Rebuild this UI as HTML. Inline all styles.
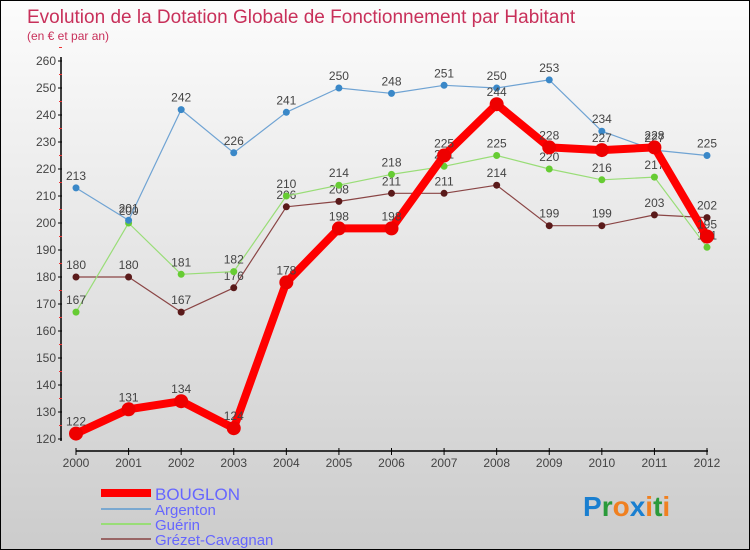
<!DOCTYPE html>
<html><head><meta charset="utf-8"><style>
body{margin:0}
#c{width:750px;height:550px;position:relative;box-sizing:border-box;border:1px solid #000;background:linear-gradient(#fcfcfc,#cccccc);font-family:"Liberation Sans",sans-serif;overflow:hidden}
svg text{font-family:"Liberation Sans",sans-serif}
</style></head><body>
<div id="c">
<svg id="s" width="750" height="550" style="position:absolute;left:0;top:0">
<text x="26" y="22" font-size="19" fill="#c8305a">Evolution de la Dotation Globale de Fonctionnement par Habitant</text>
<text x="26" y="39" font-size="12" fill="#c8305a">(en € et par an)</text>
<g id="ax"></g><g id="marks"></g>
<g>
<line x1="100" y1="492" x2="150" y2="492" stroke="#f00" stroke-width="8"/>
<text x="154" y="499" font-size="17" fill="#6666ff">BOUGLON</text>
<line x1="100" y1="508" x2="150" y2="508" stroke="#7aa8d0" stroke-width="2"/>
<text x="154" y="514" font-size="15" fill="#6666ff">Argenton</text>
<line x1="100" y1="523" x2="150" y2="523" stroke="#99dd77" stroke-width="2"/>
<text x="154" y="529" font-size="15" fill="#6666ff">Guérin</text>
<line x1="100" y1="538" x2="150" y2="538" stroke="#996666" stroke-width="2"/>
<text x="154" y="544" font-size="15" fill="#6666ff">Grézet-Cavagnan</text>
</g>
<text x="582" y="515" font-size="28" font-weight="bold"><tspan fill="#1a7fd0">P</tspan><tspan fill="#2a9a3a">r</tspan><tspan fill="#f08020">o</tspan><tspan fill="#1a7fd0">x</tspan><tspan fill="#f08020">i</tspan><tspan fill="#2a9a3a">t</tspan><tspan fill="#f08020">i</tspan></text>
</svg>
</div>
<script>
const years=[2000,2001,2002,2003,2004,2005,2006,2007,2008,2009,2010,2011,2012];
const bouglon=[122,131,134,124,178,198,198,225,244,228,227,228,195];
const argenton=[213,201,242,226,241,250,248,251,250,253,234,227,225];
const guerin=[167,200,181,182,210,214,218,221,225,220,216,217,191];
const grezet=[180,180,167,176,206,208,211,211,214,199,199,203,202];
const yTicks=[120,130,140,150,160,170,180,190,200,210,220,230,240,250,260];
const NS='http://www.w3.org/2000/svg';
const X=i=>75+i*(706-75)/(years.length-1);
const Y=v=>438-(v-120)*(438-60)/140;
function mk(t,a,p){const e=document.createElementNS(NS,t);for(const k in a)e.setAttribute(k,a[k]);p.appendChild(e);return e;}
const ax=document.getElementById('ax'),mg=document.getElementById('marks');
const ya=mk('line',{x1:60,y1:56,x2:60,y2:440,stroke:'#000','stroke-width':1.5},ax);


yTicks.forEach(v=>{
 mk('line',{x1:57,y1:Y(v),x2:61,y2:Y(v),stroke:'#000'},ax);
 mk('line',{x1:58,y1:Y(v+5),x2:61,y2:Y(v+5),stroke:'#e33'},ax);
 const t=mk('text',{x:55,y:Y(v)+4,'font-size':12,fill:'#444','text-anchor':'end'},ax);t.textContent=v;
 
 
});
const xa=mk('line',{x1:75,y1:450,x2:707,y2:450,stroke:'#000','stroke-width':1.5},ax);


years.forEach((y,i)=>{
 mk('line',{x1:X(i),y1:447,x2:X(i),y2:454,stroke:'#000'},ax);
 const t=mk('text',{x:X(i),y:466,'font-size':12,fill:'#444','text-anchor':'middle'},ax);t.textContent=y;
 
 
});
function series(d,name,col,dot,w,r){
 const g=mk('g',{},mg);
 
 
 mk('polyline',{points:d.map((v,i)=>X(i)+','+Y(v)).join(' '),fill:'none',stroke:col,'stroke-width':w,'stroke-linejoin':'round'},g);
 d.forEach((v,i)=>{
  const c=mk('circle',{cx:X(i),cy:Y(v),r:r,fill:dot},g);
  
  
  const t=mk('text',{x:X(i),y:Y(v)-8,'font-size':12,fill:'#444','text-anchor':'middle'},g);t.textContent=v;
 });
}
series(grezet,'grezet','#8a4545','#5a1a1a',1.2,3.5);
series(guerin,'guerin','#99dd77','#66cc33',1.2,3.5);
series(argenton,'argenton','#6fa3d3','#3a88c8',1.2,3.5);
series(bouglon,'bouglon','#ff0000','#ee0000',8,7);
</script>
</body></html>
